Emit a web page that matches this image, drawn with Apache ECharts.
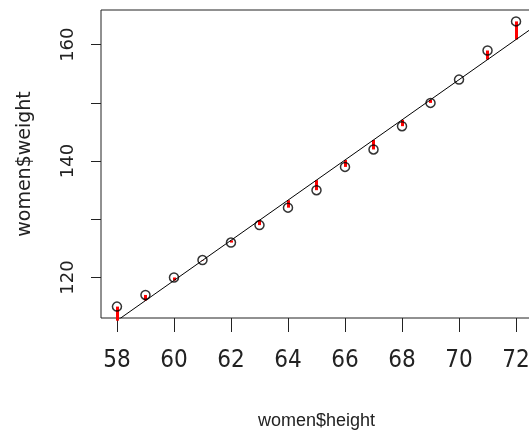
<!DOCTYPE html>
<html>
<head>
<meta charset="utf-8">
<script src="https://cdn.jsdelivr.net/npm/echarts@6/dist/echarts.min.js"></script>
<style>
html,body{margin:0;padding:0;background:#fff;}
#main{width:529px;height:430px;}
</style>
</head>
<body>
<div id="main"></div>
<script>
// women dataset
var heights = [58, 59, 60, 61, 62, 63, 64, 65, 66, 67, 68, 69, 70, 71, 72];
var weights = [115, 117, 120, 123, 126, 129, 132, 135, 139, 142, 146, 150, 154, 159, 164];
// fitted values of lm(weight ~ height)
var fitted = [112.58, 116.03, 119.48, 122.93, 126.38, 129.83, 133.28, 136.73, 140.18, 143.63, 147.08, 150.53, 153.98, 157.43, 160.88];
// abline end points at the plot edges
var fitLine = [[57.44, 110.65], [72.56, 162.82]];
var xTicks = [58, 60, 62, 64, 66, 68, 70, 72];
var yTicks = [120, 130, 140, 150, 160];
var yLabels = [120, 140, 160];

var pts = [];
var segs = [];
for (var i = 0; i < heights.length; i++) {
	pts.push([heights[i], weights[i]]);
	segs.push({coords: [[heights[i], weights[i]], [heights[i], fitted[i]]]});
}

var myChart = echarts.init(document.getElementById('main'));
var option = {
	animation: false,
	backgroundColor: '#fff',
	grid: {
		left: 101,
		top: 10,
		right: -3,
		bottom: 112,
		outerBoundsMode: 'none',
		containLabel: false,
		show: true,
		borderColor: '#222',
		borderWidth: 1
	},
	xAxis: {
		type: 'value',
		min: 57.44,
		max: 72.56,
		axisLine: {show: false},
		splitLine: {show: false},
		axisTick: {
			show: true,
			customValues: xTicks,
			length: 14,
			lineStyle: {color: '#222', width: 1}
		},
		axisLabel: {
			customValues: xTicks,
			fontStyle: 'condensed',
			fontFamily: '"DejaVu Sans", sans-serif',
			fontSize: 24,
			color: '#222',
			margin: 31
		},
		name: 'women$height',
		nameLocation: 'middle',
		nameGap: 94,
		nameTextStyle: {
			fontFamily: '"Liberation Sans", Arial, sans-serif',
			fontSize: 18,
			color: '#222'
		}
	},
	yAxis: {
		type: 'value',
		min: 113.04,
		max: 165.96,
		axisLine: {show: false},
		splitLine: {show: false},
		axisTick: {
			show: true,
			customValues: yTicks,
			length: 10,
			lineStyle: {color: '#222', width: 1}
		},
		axisLabel: {
			customValues: yLabels,
			rotate: 90,
			fontFamily: '"DejaVu Sans", sans-serif',
			fontSize: 18,
			color: '#222',
			margin: 24
		},
		name: 'women$weight',
		nameLocation: 'middle',
		nameRotate: 90,
		nameGap: 66,
		nameTextStyle: {
			fontFamily: '"DejaVu Sans", sans-serif',
			fontSize: 19,
			color: '#222'
		}
	},
	series: [
		{
			name: 'fit',
			type: 'line',
			data: fitLine,
			symbol: 'none',
			clip: true,
			lineStyle: {color: '#000', width: 1}
		},
		{
			name: 'points',
			type: 'scatter',
			data: pts,
			symbol: 'circle',
			symbolSize: 9,
			itemStyle: {color: 'rgba(0,0,0,0)', borderColor: '#000', borderWidth: 1.5}
		},
		{
			name: 'resid',
			type: 'lines',
			coordinateSystem: 'cartesian2d',
			data: segs,
			clip: false,
			lineStyle: {color: '#ff0000', width: 3, opacity: 1}
		}
	]
};
myChart.setOption(option);
</script>
</body>
</html>
